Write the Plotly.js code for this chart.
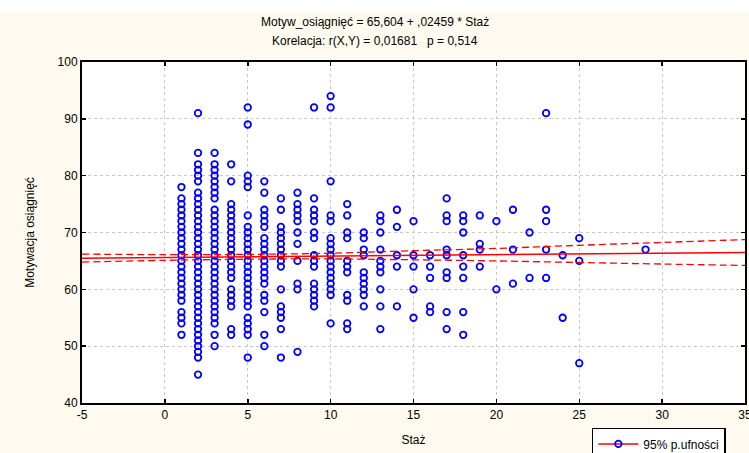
<!DOCTYPE html>
<html>
<head>
<meta charset="utf-8">
<script src="https://cdn.plot.ly/plotly-3.0.1.min.js"></script>
<style>
html,body{margin:0;padding:0;background:#fefaef;}
#chart{width:749px;height:453px;}
</style>
</head>
<body>
<div id="chart"></div>
<script>
// Staż (years) values and the Motywacja osiągnięć scores observed at each
var stazValues = [1,2,3,4,5,6,7,8,9,10,11,12,13,14,15,16,17,18,19,20,21,22,23,24,25,29];
var m1  = [78,76,75,74,73,72,71,70,69,68,67,66,65,64,63,62,61,60,59,58,56,55,54,52];
var m2  = [91,84,82,81,80,79,77,76,75,74,73,72,71,70,69,68,67,66,65,64,63,62,61,60,59,58,57,56,55,54,53,52,51,50,49,48,45];
var m3  = [84,82,81,80,79,78,77,76,74,73,72,71,70,69,68,67,66,65,64,63,62,61,60,59,58,57,56,55,54,52,50];
var m4  = [82,79,75,74,73,72,71,70,69,68,67,66,65,64,63,62,60,59,58,57,53,52];
var m5  = [92,89,80,79,78,73,71,70,69,68,67,66,65,64,63,62,61,60,59,58,57,55,54,53,52,48];
var m6  = [79,77,74,73,72,71,69,68,67,66,65,64,63,62,61,59,58,56,52,50];
var m7  = [76,74,71,70,69,68,67,66,65,64,60,57,56,55,53,48];
var m8  = [77,75,74,73,72,70,68,65,61,60,49];
var m9  = [92,76,74,73,72,70,69,66,65,64,61,60,59,58,57];
var m10 = [94,92,79,73,72,69,68,67,66,65,64,63,62,61,60,59,54];
var m11 = [75,73,70,69,65,64,63,59,58,54,53];
var m12 = [70,69,67,66,63,62,61,60,59,57];
var m13 = [73,72,70,67,65,64,63,60,57,53];
var m14 = [74,71,66,64,57];
var m15 = [72,66,64,60,55];
var m16 = [66,64,62,57,56];
var m17 = [76,73,72,67,66,63,62,56,53];
var m18 = [73,72,70,66,64,62,56,52];
var m19 = [73,68,67,64];
var m20 = [72,60];
var m21 = [74,67,61];
var m22 = [70,62];
var m23 = [91,74,72,67,62];
var m24 = [66,55];
var m25 = [69,65,47];
var m29 = [67];
var scoreColumns = [m1,m2,m3,m4,m5,m6,m7,m8,m9,m10,m11,m12,m13,m14,m15,m16,m17,m18,m19,m20,m21,m22,m23,m24,m25,m29];

// regression: Motyw_osiągnięć = 65,604 + ,02459 * Staż
var regIntercept = 65.604;
var regSlope = 0.02459;
var regXRange = [-5, 35];

// 95% confidence band
var bandX     = [-5, 0, 5, 10, 15, 20, 25, 30, 35];
var bandUpper = [66.2, 66.1, 66.15, 66.35, 66.8, 67.2, 67.75, 68.25, 68.75];
var bandLower = [64.8, 65.1, 65.3, 65.35, 65.2, 65.0, 64.72, 64.45, 64.2];

var xTicks = [-5,0,5,10,15,20,25,30,35];
var yTicks = [40,50,60,70,80,90,100];

var titleLine1 = "Motyw_osiągnięć = 65,604 + ,02459 * Staż";
var titleLine2 = "Korelacja: r(X,Y) = 0,01681   p = 0,514";
var xTitle = "Staż";
var yTitle = "Motywacja osiągnięć";
var legendLabel = "95% p.ufności";

var xs = [], ys = [];
stazValues.forEach(function(s, i){
  scoreColumns[i].forEach(function(v){ xs.push(s); ys.push(v); });
});

var regY = regXRange.map(function(x){ return regIntercept + regSlope * x; });

var markerStyle = {symbol: 'circle-open', size: 6.5, color: '#0000ff', line: {width: 1.8, color: '#0000ff'}};

var traces = [
  {x: xs, y: ys, type: 'scatter', mode: 'markers', showlegend: false, cliponaxis: false, marker: markerStyle},
  {x: regXRange, y: regY, type: 'scatter', mode: 'lines', showlegend: false,
   line: {color: '#ff0000', width: 1.5}},
  {x: bandX, y: bandUpper, type: 'scatter', mode: 'lines', showlegend: false,
   line: {color: '#ff0000', width: 1.3, dash: '7px,4px', shape: 'spline'}},
  {x: bandX, y: bandLower, type: 'scatter', mode: 'lines', showlegend: false,
   line: {color: '#ff0000', width: 1.3, dash: '7px,4px', shape: 'spline'}},
  {x: [null], y: [null], type: 'scatter', mode: 'lines+markers', name: legendLabel, showlegend: true,
   line: {color: '#ff0000', width: 1.5}, marker: markerStyle}
];

var axisFont = {family: 'Liberation Sans, Arial, sans-serif', size: 12, color: '#000'};
var titleFont = {family: 'Liberation Sans Narrow, Arial Narrow, Liberation Sans, sans-serif', size: 12, color: '#000'};

var layout = {
  width: 749, height: 453,
  margin: {l: 82, r: 4, t: 62, b: 50, pad: 0, autoexpand: false},
  paper_bgcolor: '#fefaef',
  plot_bgcolor: '#ffffff',
  showlegend: true,
  annotations: [
    {text: titleLine1, xref: 'paper', yref: 'paper', x: 0.4412, y: 1.1173,
     xanchor: 'center', yanchor: 'middle', showarrow: false, font: titleFont},
    {text: titleLine2, xref: 'paper', yref: 'paper', x: 0.4412, y: 1.0616,
     xanchor: 'center', yanchor: 'middle', showarrow: false, font: titleFont}
  ],
  xaxis: {
    range: regXRange, tickmode: 'array', tickvals: xTicks,
    ticktext: xTicks.map(String), ticklabeloverflow: 'allow',
    showgrid: true, gridcolor: '#c8c8c8', griddash: 'dot', gridwidth: 1,
    zeroline: false, showline: true, linecolor: '#000', linewidth: 2, mirror: 'ticks',
    ticks: 'inside', ticklen: 4, tickcolor: '#000', tickwidth: 1.5,
    tickfont: axisFont, automargin: false,
    title: {text: xTitle, font: titleFont, standoff: 14}
  },
  yaxis: {
    range: [40, 100], tickmode: 'array', tickvals: yTicks,
    ticktext: yTicks.map(String),
    showgrid: true, gridcolor: '#c8c8c8', griddash: 'dot', gridwidth: 1,
    zeroline: false, showline: true, linecolor: '#000', linewidth: 2, mirror: 'ticks',
    ticks: 'inside', ticklen: 4, tickcolor: '#000', tickwidth: 1.5,
    tickfont: axisFont, automargin: false,
    title: {text: yTitle, font: titleFont, standoff: 20}
  },
  legend: {
    x: 0.769, xanchor: 'left', y: -0.073, yanchor: 'top',
    bgcolor: '#ffffff', bordercolor: '#000', borderwidth: 1.5,
    font: {family: 'Liberation Sans, Arial, sans-serif', size: 12, color: '#000'},
    itemwidth: 40
  },
  shapes: [
    {type: 'rect', xref: 'paper', yref: 'paper', x0: -0.2, x1: 1.1, y0: 1.147, y1: 1.2,
     fillcolor: '#ffffff', line: {width: 0}, layer: 'below'}
  ]
};

Plotly.newPlot('chart', traces, layout, {displayModeBar: false, staticPlot: true});
</script>
</body>
</html>
